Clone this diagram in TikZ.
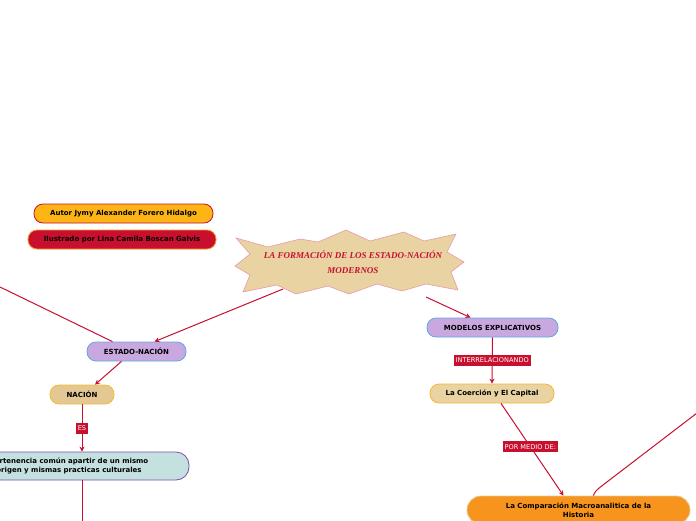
\documentclass[tikz,border=0pt]{standalone}
\usepackage{fontspec}
\setmainfont{DejaVu Sans}
\newfontfamily\titlefont{Liberation Serif}
\usetikzlibrary{arrows.meta}
\definecolor{carmin}{HTML}{C8102E}
\definecolor{lila}{HTML}{C9A8E0}
\definecolor{azul}{HTML}{5AA9E6}
\definecolor{arena}{HTML}{E9D3A3}
\definecolor{ocre}{HTML}{E3C894}
\definecolor{ambar}{HTML}{F7B733}
\definecolor{menta}{HTML}{C5E1DF}
\definecolor{morado}{HTML}{7A4FA8}
\definecolor{naranja}{HTML}{F7941D}
\definecolor{dorado}{HTML}{FDB515}
\definecolor{rosa}{HTML}{E89AA8}

\begin{document}
\begin{tikzpicture}[x=1pt,y=-1pt,
  topic/.style={rectangle,rounded corners=9pt,line width=0.8pt,inner sep=2pt,
    minimum height=19pt,font=\fontsize{7}{8.5}\selectfont\bfseries,align=center},
  etiqueta/.style={rectangle,fill=carmin,text=white,inner sep=2pt,
    minimum height=11pt,font=\fontsize{6.6}{7}\selectfont},
  linea/.style={draw=carmin,line width=1pt},
  flecha/.style={linea,-{Stealth[length=5pt,width=5pt]}}]
\path[use as bounding box] (0,0) rectangle (696,520);
\clip (0,0) rectangle (696,520);
\draw[fill=arena,draw=rosa,line width=0.6pt] (236,238) -- (268,247) -- (300,239) -- (318,242) -- (346,230) -- (370,241) -- (404,232) -- (424,241) -- (456,234) -- (447,252) -- (464,262) -- (451,272) -- (458,290) -- (426,284) -- (402,291) -- (377,284) -- (349,294) -- (328,286) -- (296,294) -- (277,285) -- (243,292) -- (250,275) -- (235,266) -- (250,254) -- cycle;
\node[text=carmin,font=\titlefont\fontsize{9}{15}\selectfont\bfseries\itshape,align=center] (titulo) at (353,262) {LA FORMACIÓN DE LOS ESTADO-NACIÓN\\MODERNOS};
\coordinate (salidaizq) at (283,289);
\coordinate (salidader) at (426,297);
\node[topic,fill=dorado,draw=carmin,minimum width=179pt] (autor) at (123.5,213.5) {Autor Jymy Alexander Forero Hidalgo};
\node[topic,fill=carmin,draw=naranja,minimum width=188pt] (ilustrado) at (122,239.5) {Ilustrado por Lina Camila Boscan Galvis};
\node[topic,fill=lila,draw=azul,minimum width=99pt] (estado) at (136.5,351.5) {ESTADO-NACIÓN};
\node[topic,fill=ocre,draw=ambar,minimum width=64pt] (nacion) at (82,394.5) {NACIÓN};
\node[topic,fill=menta,draw=morado,minimum width=240pt,minimum height=28pt,rounded corners=13pt] (pertenencia) at (69,466) {Pertenencia común apartir de un mismo\\origen y mismas practicas culturales};
\node[topic,fill=lila,draw=azul,minimum width=131pt] (modelos) at (492.5,327.5) {MODELOS EXPLICATIVOS};
\node[topic,fill=arena,draw=ambar,minimum width=124pt] (coercion) at (492,393.5) {La Coerción y El Capital};
\node[topic,fill=naranja,draw=ocre,minimum width=223pt,minimum height=28pt,rounded corners=14pt] (comparacion) at (578.5,510) {La Comparación Macroanalitica de la\\Historia};
\coordinate (bordeizq) at (0,287);
\coordinate (bordeder) at (697,413);
\coordinate (bordeinf) at (82,522);
\draw[linea] (bordeizq) -- ([xshift=-24pt]estado.north);
\draw[flecha] (salidaizq) -- ([xshift=18pt]estado.north);
\draw[flecha] ([xshift=-15pt]estado.south) -- ([xshift=13pt]nacion.north);
\draw[flecha] (nacion.south) -- node[etiqueta] (es) {ES} (nacion.south |- pertenencia.north);
\draw[linea] (bordeinf |- pertenencia.south) -- (bordeinf);
\draw[flecha] (salidader) -- ([xshift=-22pt]modelos.north);
\draw[flecha] (modelos.south) -- node[etiqueta] (interrel) {INTERRELACIONANDO} (coercion.north);
\draw[flecha] ([xshift=9pt]coercion.south) -- node[etiqueta,pos=0.47] (pormedio) {POR MEDIO DE:} ([xshift=-15pt]comparacion.north);
\draw[linea] (bordeder) -- (603,485) .. controls (596,490) and (594,493) .. ([xshift=15pt]comparacion.north);
\end{tikzpicture}
\end{document}
